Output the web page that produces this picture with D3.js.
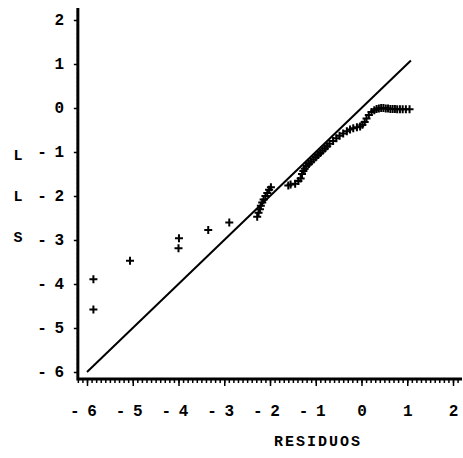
<!DOCTYPE html>
<html>
<head>
<meta charset="utf-8"/>
<script src="https://cdn.jsdelivr.net/npm/d3@7"></script>
<style>
  body { margin: 0; background: #fff; }
  text { font-family: "Liberation Mono", "DejaVu Sans Mono", monospace; font-weight: bold; fill: #000; }
</style>
</head>
<body>
<script>
  // residuos (x) vs LLS (y)
  var residuos = [-5.86, -5.86, -5.06, -3.99, -4.0, -3.35, -2.89,
    -2.28, -2.25, -2.22, -2.2, -2.17, -2.14, -2.1, -2.06, -2.02, -1.98,
    -1.6, -1.55, -1.45, -1.38, -1.33, -1.3, -1.27, -1.24, -1.2, -1.15, -1.1, -1.05,
    -1.0, -0.95, -0.9, -0.85, -0.8, -0.75, -0.7, -0.62, -0.55, -0.48, -0.4, -0.32,
    -0.25, -0.18, -0.1, -0.03, 0.02, 0.07, 0.11, 0.16, 0.22, 0.28, 0.33, 0.38,
    0.43, 0.48, 0.53, 0.58, 0.63, 0.68, 0.73, 0.78, 0.84, 0.9, 0.97, 1.05];
  var lls = [-3.89, -4.58, -3.47, -2.96, -3.19, -2.77, -2.6,
    -2.47, -2.38, -2.3, -2.22, -2.15, -2.08, -2.0, -1.93, -1.86, -1.8,
    -1.76, -1.74, -1.72, -1.66, -1.6, -1.5, -1.43, -1.38, -1.32, -1.27, -1.22, -1.17,
    -1.12, -1.07, -1.02, -0.97, -0.92, -0.87, -0.81, -0.75, -0.69, -0.63, -0.58, -0.53,
    -0.49, -0.46, -0.44, -0.42, -0.38, -0.32, -0.24, -0.16, -0.09, -0.05, -0.02, -0.01,
    0.0, 0.0, -0.01, -0.01, -0.02, -0.02, -0.02, -0.03, -0.03, -0.03, -0.03, -0.03];
  var refLine = [[-6, -6], [1.08, 1.08]];
  var xTicks = [-6, -5, -4, -3, -2, -1, 0, 1, 2];
  var yTicks = [2, 1, 0, -1, -2, -3, -4, -5, -6];

  var w = 463, h = 458;
  var svg = d3.select("body").append("svg")
    .attr("width", w)
    .attr("height", h);

  var x = d3.scaleLinear().domain([-6, 2]).range([87, 453]);
  var y = d3.scaleLinear().domain([-6, 2]).range([372, 20]);
  var x0 = x(-6.2), y0 = 379;

  // minor ticks
  var minorX = d3.range(-62, 22).map(function(d) { return d / 10; });
  var minorY = d3.range(-60, 23).map(function(d) { return d / 10; });

  var xg = svg.append("g").attr("transform", "translate(0," + y0 + ")");
  xg.call(d3.axisBottom(x).tickValues(minorX).tickSize(4).tickFormat(""));
  xg.append("g").call(d3.axisBottom(x).tickValues(xTicks).tickSize(7).tickFormat(""));
  xg.selectAll(".domain").remove();
  xg.selectAll("line").attr("stroke", "#000").attr("stroke-width", 1.5);

  var yg = svg.append("g").attr("transform", "translate(" + x0 + ",0)");
  yg.call(d3.axisLeft(y).tickValues(minorY).tickSize(3).tickFormat(""));
  yg.append("g").call(d3.axisLeft(y).tickValues(yTicks).tickSize(6).tickFormat(""));
  yg.selectAll(".domain").remove();
  yg.selectAll("line").attr("stroke", "#000").attr("stroke-width", 1.5);
  yg.selectAll(".tick line").attr("x2", function() { return +d3.select(this).attr("x2") + 2; });

  svg.append("line")
    .attr("x1", x0).attr("x2", 462).attr("y1", y0).attr("y2", y0)
    .attr("stroke", "#000").attr("stroke-width", 3);
  svg.append("line")
    .attr("x1", x0).attr("x2", x0).attr("y1", 8).attr("y2", y0 + 1.5)
    .attr("stroke", "#000").attr("stroke-width", 3);

  // tick labels
  svg.selectAll(".xl").data(xTicks).enter().append("text")
    .attr("x", function(d) { return x(d) - (d < 0 ? 4 : 0); })
    .attr("y", 416)
    .attr("text-anchor", "middle")
    .attr("font-size", 16)
    .attr("letter-spacing", -1)
    .text(function(d) { return d < 0 ? "- " + (-d) : d; });
  svg.selectAll(".yl").data(yTicks).enter().append("text")
    .attr("x", 63)
    .attr("y", function(d) { return y(d) + 5; })
    .attr("text-anchor", "end")
    .attr("font-size", 16)
    .attr("letter-spacing", -1)
    .text(function(d) { return d < 0 ? "- " + (-d) : d; });

  // axis titles
  svg.append("text")
    .attr("x", 318).attr("y", 446)
    .attr("text-anchor", "middle")
    .attr("font-size", 15)
    .attr("letter-spacing", 2)
    .text("RESIDUOS");
  ["L", "L", "S"].forEach(function(c, i) {
    svg.append("text")
      .attr("x", 18).attr("y", 160 + i * 41)
      .attr("text-anchor", "middle")
      .attr("font-size", 15)
      .text(c);
  });

  // reference line
  svg.append("path")
    .attr("d", d3.line().x(function(d) { return x(d[0]); }).y(function(d) { return y(d[1]); })(refLine))
    .attr("fill", "none").attr("stroke", "#000").attr("stroke-width", 2);

  // points as +
  var pts = residuos.map(function(d, i) { return [d, lls[i]]; });
  var s = 4;
  svg.append("g").selectAll("path").data(pts).enter().append("path")
    .attr("d", function(d) {
      var px = x(d[0]), py = y(d[1]);
      return "M" + (px - s) + "," + py + "H" + (px + s) + "M" + px + "," + (py - s) + "V" + (py + s);
    })
    .attr("stroke", "#000").attr("stroke-width", 2).attr("fill", "none");
</script>
</body>
</html>
